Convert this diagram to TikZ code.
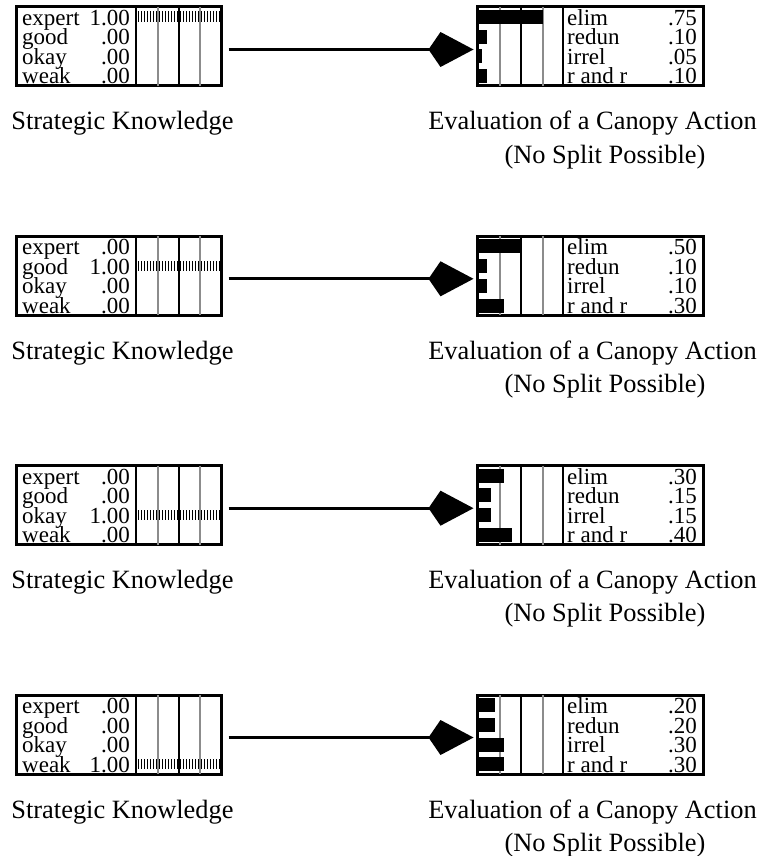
\documentclass[tikz,border=0pt]{standalone}
\usepackage{fontspec}
\setmainfont{Liberation Serif}
\usetikzlibrary{arrows.meta}

\tikzset{
	netbox/.style={draw, line width=3pt, minimum width=#1, minimum height=79pt, inner sep=0pt},
	divider/.style={line width=2pt},
	midline/.style={line width=2pt},
	grayline/.style={line width=2pt, black!45},
	bar/.style={fill=black},
	lab/.style={anchor=base west, inner sep=0pt, font=\fontsize{23}{23}\selectfont},
	val/.style={anchor=base east, inner sep=0pt, font=\fontsize{23}{23}\selectfont},
	caption/.style={anchor=base, inner sep=0pt, font=\fontsize{26.4}{33}\selectfont},
	arrowline/.style={line width=3pt, -{Kite[length=45pt,width=35pt,inset=12pt]}},
}

% #1 panel number, #2 row with 1.00, #3--#6 evaluation values
\newcommand{\panel}[6]{%
	% strategic knowledge
	\node[netbox=205pt] (sk#1) at (118.5,39.5) {};
	\draw[grayline] (157.5,0) -- (157.5,79);
	\draw[grayline] (200,0) -- (200,79);
	\draw[midline] (179,0) -- (179,79);
	\draw[divider] (136,0) -- (136,79);
	\foreach \s in {0,...,27}
		\fill (137.5+3*\s,{(#2-1)*19.75+4.5}) rectangle ++(1.8,10.5);
	\foreach \lab [count=\r] in {expert,good,okay,weak} {
		\node[lab] at (22,{18.5+19.5*(\r-1)}) {\lab};
		\node[val] at (130,{18.5+19.5*(\r-1)}) {\ifnum\r=#2 1.00\else .00\fi};
	}
	% evaluation
	\node[netbox=226pt] (ev#1) at (590,39.5) {};
	\draw[grayline] (499.5,0) -- (499.5,79);
	\draw[grayline] (542.5,0) -- (542.5,79);
	\draw[midline] (521,0) -- (521,79);
	\foreach \v [count=\r] in {#3,#4,#5,#6}
		\fill[bar] (478,{(\r-1)*19.75+3}) rectangle ++({\v*86},14);
	\draw[divider] (563,0) -- (563,79);
	\foreach \lab/\v [count=\r] in {elim/#3,redun/#4,irrel/#5,r and r/#6} {
		\node[lab] at (567,{18.5+19.5*(\r-1)}) {\lab};
		\node[val] at (697,{18.5+19.5*(\r-1)}) {\v};
	}
	\draw[arrowline] ([xshift=6pt,yshift=-3pt]sk#1.east) -- ([xshift=-2pt,yshift=-3pt]ev#1.west);
	% captions
	\node[caption] (skcap#1) at (122.5,123) {Strategic Knowledge};
	\node[caption] (evcap#1) at (592.5,123) {Evaluation of a Canopy Action};
	\node[caption] (evsub#1) at (605,156) {(No Split Possible)};
}

\begin{document}
\begin{tikzpicture}[x=1pt,y=-1pt]
	\useasboundingbox (0,0) rectangle (760,856);
	
	\begin{scope}[shift={(0,7)}]
		\panel{1}{1}{.75}{.10}{.05}{.10}
	\end{scope}
	
	\begin{scope}[shift={(0,236.3)}]
		\panel{2}{2}{.50}{.10}{.10}{.30}
	\end{scope}
	
	\begin{scope}[shift={(0,465.7)}]
		\panel{3}{3}{.30}{.15}{.15}{.40}
	\end{scope}
	
	\begin{scope}[shift={(0,695)}]
		\panel{4}{4}{.20}{.20}{.30}{.30}
	\end{scope}
\end{tikzpicture}
\end{document}
